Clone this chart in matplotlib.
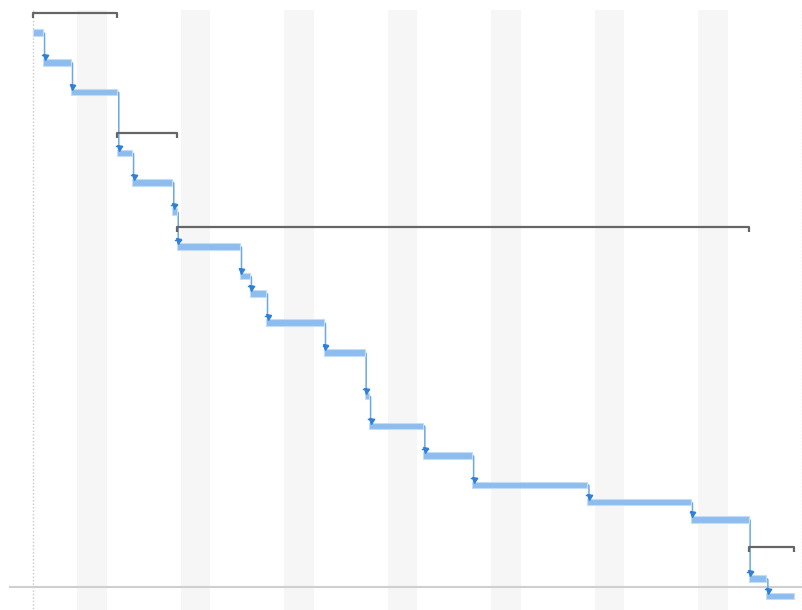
import matplotlib.pyplot as plt
import numpy as np

# task bars (days from project start)
task_start = [0, 0.68, 2.57, 5.70, 6.70, 9.42, 9.72, 14.0, 14.67, 15.76, 19.68, 22.43, 22.73, 26.4, 29.7, 37.5, 44.5, 48.4, 49.6]
task_end = [0.68, 2.57, 5.70, 6.70, 9.42, 9.72, 14.0, 14.67, 15.76, 19.68, 22.43, 22.73, 26.4, 29.7, 37.5, 44.5, 48.4, 49.6, 51.5]
task_row = [32.7, 62.3, 91.8, 153, 182.3, 211.7, 246.5, 276, 293.3, 322.7, 352.5, 396, 425.8, 455.5, 484.8, 502.2, 519.3, 578.7, 595.8]

# summary (group) brackets
group_start = [0, 5.70, 9.72, 48.4]
group_end = [5.70, 9.72, 48.4, 51.5]
group_row = [13.3, 133.3, 226.7, 546.7]

weekend_start = [3, 10, 17, 24, 31, 38, 45]

px_day = 103.5 / 7  # pixels per day in the output


def main():
    fig = plt.figure(figsize=(8.03, 6.10), dpi=100)
    ax = fig.add_axes([0, 0, 1, 1])
    ax.set_xlim(-33 / px_day, (803 - 33) / px_day)
    ax.set_ylim(610, 0)
    ax.axis('off')

    # weekends
    for w in weekend_start:
        ax.fill_between([w, w + 2], 10, 610, color='#f6f6f6', lw=0, zorder=0)

    # start / end markers
    ax.plot([0, 0], [10, 610], color='#c8c8c8', lw=1, ls=(0, (1, 1.5)), zorder=1)
    ax.plot([769 / px_day, 769 / px_day], [10, 610], color='#dddddd', lw=1, ls=(0, (1, 1.5)), zorder=1)
    ax.plot([-23 / px_day, 770 / px_day], [587, 587], color='#cfcfcf', lw=1.5, zorder=1)

    widths = np.array(task_end) - np.array(task_start)
    ax.barh(task_row, widths, left=task_start, height=6.5, color='#8dbdee',
            edgecolor='#c4ddf6', linewidth=0.8, zorder=3)

    # dependency arrows
    dx = 1.5 / px_day
    for i in range(len(task_start) - 1):
        e = task_end[i]
        y0 = task_row[i]
        y1 = task_row[i + 1] - 3.25
        ax.plot([e, e + dx, e + dx], [y0 - 0.5, y0 + 1, y1 - 2], color='#6aa8e6',
                lw=1.1, zorder=2, solid_joinstyle='round')
        ax.plot(e + dx, y1 - 2, marker='v', ms=3.6, color='#2f80d8', mec='#2f80d8', zorder=4)
        ax.plot([e + dx - 0.2, e + dx + 0.2], [y1 - 3.6, y1 - 3.6], color='#2f80d8', lw=1, zorder=4)

    # group brackets
    for s, e, y in zip(group_start, group_end, group_row):
        ax.plot([s, s, e, e], [y + 5, y, y, y + 5], color='#666666', lw=1.6,
                solid_capstyle='butt', zorder=3)

    fig.savefig('out.png', dpi=100)


if __name__ == '__main__':
    main()
